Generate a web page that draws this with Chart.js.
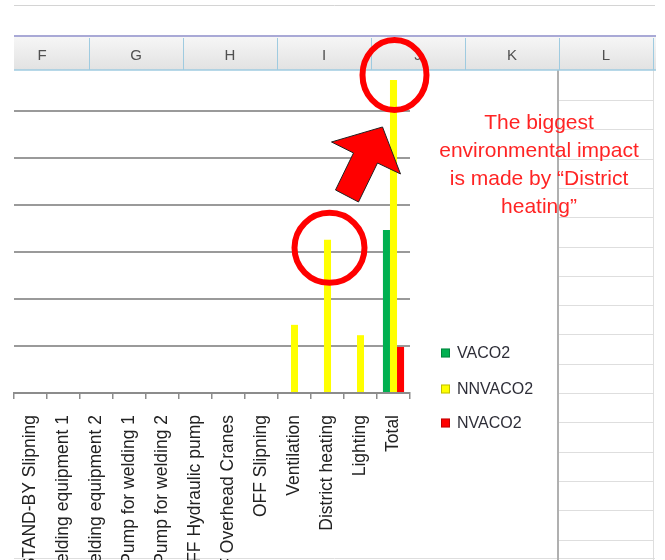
<!DOCTYPE html>
<html>
<head>
<meta charset="utf-8">
<script src="https://cdn.jsdelivr.net/npm/chart.js@4.4.1/dist/chart.umd.min.js"></script>
<style>
  html, body { margin: 0; padding: 0; background: #fff; overflow: hidden; }
  #wrap { position: relative; width: 665px; height: 560px; overflow: hidden; }
  canvas { display: block; }
</style>
</head>
<body>
<div id="wrap"><canvas id="chart" width="665" height="620"></canvas></div>
<script>
const categories = [
  'ON STAND-BY Slipning', 'Welding equipment 1', 'Welding equipment 2',
  'Pump for welding 1', 'Pump for welding 2', 'OFF Hydraulic pump',
  'OFF Overhead Cranes', 'OFF Slipning', 'Ventilation', 'District heating',
  'Lighting', 'Total'
]
const vaco2   = [0, 0, 0, 0, 0, 0, 0, 0, 0, 0, 0, 3.47]
const nnvaco2 = [0, 0, 0, 0, 0, 0, 0, 0, 1.45, 3.26, 1.23, 6.66]
const nvaco2  = [0, 0, 0, 0, 0, 0, 0, 0, 0, 0, 0, 0.98]
const yTicks = [0, 1, 2, 3, 4, 5, 6, 7]
const columnLetters = ['F', 'G', 'H', 'I', 'J', 'K', 'L']
const noteLines = ['The biggest', 'environmental impact', 'is made by \u201cDistrict', 'heating\u201d']

const GREEN = '#00b050'
const YELLOW = '#ffff00'
const RED = '#ff0000'

// spreadsheet behind the chart object
const sheetBack = {
  id: 'sheetBack',
  beforeDraw(chart) {
    const ctx = chart.ctx
    ctx.save()
    ctx.fillStyle = '#fff'
    ctx.fillRect(0, 0, chart.width, chart.height)
    // top line
    ctx.strokeStyle = '#d4d4d4'
    ctx.lineWidth = 1
    ctx.beginPath(); ctx.moveTo(14, 5.5); ctx.lineTo(655, 5.5); ctx.stroke()
    // cells of column L
    ctx.strokeStyle = '#dedede'
    for (let y = 100; y < 560; y += 29.3) {
      ctx.beginPath(); ctx.moveTo(559, Math.round(y) + 0.5); ctx.lineTo(653, Math.round(y) + 0.5); ctx.stroke()
    }
    ctx.beginPath(); ctx.moveTo(653.5, 70); ctx.lineTo(653.5, 560); ctx.stroke()
    ctx.beginPath(); ctx.moveTo(14, 558.5); ctx.lineTo(655, 558.5); ctx.stroke()
    // chart object border
    ctx.strokeStyle = '#b0b0b0'
    ctx.lineWidth = 2
    ctx.beginPath(); ctx.moveTo(558, 70); ctx.lineTo(558, 560); ctx.stroke()
    ctx.restore()
  }
}

const overlay = {
  id: 'overlay',
  afterDraw(chart) {
    const ctx = chart.ctx
    const xs = chart.scales.x
    const ys = chart.scales.y
    ctx.save()

    // header row
    const g = ctx.createLinearGradient(0, 37, 0, 70)
    g.addColorStop(0, '#f6f6f6')
    g.addColorStop(1, '#e2e2e2')
    ctx.fillStyle = g
    ctx.fillRect(14, 37, 642, 33)
    ctx.strokeStyle = '#a9a9d6'
    ctx.lineWidth = 2
    ctx.beginPath(); ctx.moveTo(14, 36); ctx.lineTo(656, 36); ctx.stroke()
    ctx.strokeStyle = '#9fcbe0'
    ctx.lineWidth = 1.5
    ctx.beginPath(); ctx.moveTo(14, 70); ctx.lineTo(656, 70); ctx.stroke()
    ctx.lineWidth = 1
    ctx.font = '15px "Liberation Sans", Arial, sans-serif'
    ctx.fillStyle = '#505050'
    ctx.textAlign = 'center'
    ctx.textBaseline = 'middle'
    columnLetters.forEach((c, i) => {
      const left = -5 + i * 94
      ctx.fillText(c, left + 47, 56)
      ctx.beginPath(); ctx.moveTo(left + 94.5, 38); ctx.lineTo(left + 94.5, 70); ctx.stroke()
    })

    // legend
    ctx.font = '16px "Liberation Sans", Arial, sans-serif'
    ctx.textAlign = 'left'
    const legendY = [353, 389, 423]
    chart.data.datasets.forEach((ds, i) => {
      ctx.fillStyle = ds.backgroundColor
      ctx.fillRect(441, legendY[i] - 4.5, 9, 9)
      ctx.strokeStyle = 'rgba(0,0,0,0.25)'
      ctx.strokeRect(441.5, legendY[i] - 4, 8, 8)
      ctx.fillStyle = '#2e2e38'
      ctx.fillText(ds.label, 457, legendY[i] + 1)
    })

    // highlight circles, placed from the bars
    ctx.strokeStyle = RED
    ctx.lineWidth = 6
    const dhX = xs.getPixelForValue(9)
    const dhY = ys.getPixelForValue(nnvaco2[9])
    ctx.beginPath(); ctx.ellipse(dhX + 2, dhY + 8, 35, 35, 0, 0, Math.PI * 2); ctx.stroke()
    const tX = xs.getPixelForValue(11)
    const tY = ys.getPixelForValue(nnvaco2[11])
    ctx.beginPath(); ctx.ellipse(tX + 1, tY - 5, 32, 35, 0, 0, Math.PI * 2); ctx.stroke()

    // block arrow pointing at the total
    const ax = tX - 393, ay = tY - 80
    const arrow = [[353, 153], [331, 142], [382, 127], [400, 174], [377, 163], [358, 202], [335, 190]]
    ctx.beginPath()
    arrow.forEach(([px, py], i) => i ? ctx.lineTo(px + ax, py + ay) : ctx.moveTo(px + ax, py + ay))
    ctx.closePath()
    ctx.fillStyle = RED
    ctx.fill()
    ctx.strokeStyle = '#222'
    ctx.lineWidth = 1
    ctx.stroke()

    // note
    ctx.font = '21px "Liberation Sans", Arial, sans-serif'
    ctx.fillStyle = '#ff2424'
    ctx.textAlign = 'center'
    noteLines.forEach((t, i) => ctx.fillText(t, 539, 123 + i * 28))

    ctx.restore()
  }
}

new Chart(document.getElementById('chart').getContext('2d'), {
  type: 'bar',
  data: {
    labels: categories,
    datasets: [
      { label: 'VACO2', data: vaco2, backgroundColor: GREEN },
      { label: 'NNVACO2', data: nnvaco2, backgroundColor: YELLOW },
      { label: 'NVACO2', data: nvaco2, backgroundColor: RED }
    ]
  },
  options: {
    responsive: false,
    animation: false,
    barPercentage: 1,
    categoryPercentage: 0.64,
    layout: { padding: { left: 14, right: 255, top: 64, bottom: 0 } },
    plugins: { legend: { display: false }, tooltip: { enabled: false } },
    scales: {
      x: {
        grid: { offset: true, drawOnChartArea: false, color: '#8c8c8c', lineWidth: 1.5, tickLength: 6 },
        border: { color: '#8c8c8c', width: 2 },
        ticks: {
          autoSkip: false, minRotation: 90, maxRotation: 90, padding: 16,
          color: '#222', font: { family: '"Liberation Sans", Arial, sans-serif', size: 17.5 }
        },
        afterFit: s => { s.height = 227 }
      },
      y: {
        min: yTicks[0],
        max: yTicks[yTicks.length - 1],
        afterBuildTicks: s => { s.ticks = yTicks.map(v => ({ value: v })) },
        ticks: { display: false },
        grid: { color: '#9a9a9a', lineWidth: 2, drawTicks: false },
        border: { display: false },
        afterFit: s => { s.width = 0 }
      }
    }
  },
  plugins: [sheetBack, overlay]
})
</script>
</body>
</html>
